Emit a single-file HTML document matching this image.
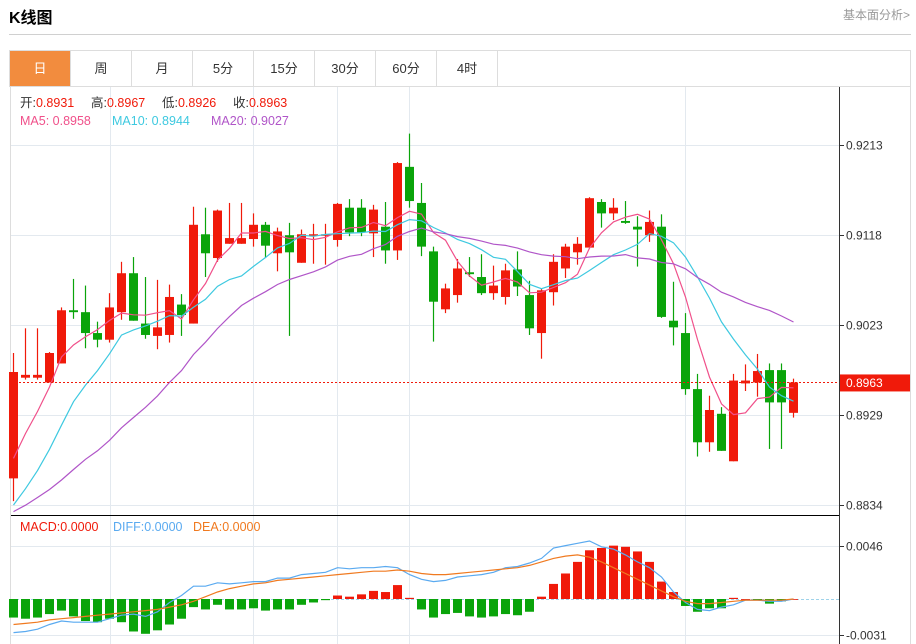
<!DOCTYPE html>
<html><head><meta charset="utf-8">
<style>
body{margin:0;width:916px;height:644px;background:#fff;font-family:"Liberation Sans","Noto Sans CJK SC",sans-serif;overflow:hidden;position:relative}
.title{position:absolute;left:9px;top:4px;font-size:16px;font-weight:bold;color:#000}
.more{position:absolute;right:6px;top:6px;font-size:12px;color:#999}
.hline{position:absolute;left:9px;top:34px;width:902px;height:1px;background:#d0d0d0}
.tabs{position:absolute;left:9px;top:50px;width:900px;height:35px;border:1px solid #ddd;display:flex}
.tab{width:60px;border-right:1px solid #ddd;text-align:center;line-height:35px;font-size:13px;color:#333}
.tab.on{background:#f28c3e;color:#fff}
svg{position:absolute;left:0;top:0}
</style></head><body>
<div class="title">K线图</div>
<div class="more">基本面分析&gt;</div>
<div class="hline"></div>
<div class="tabs">
<div class="tab on">日</div>
<div class="tab">周</div>
<div class="tab">月</div>
<div class="tab">5分</div>
<div class="tab">15分</div>
<div class="tab">30分</div>
<div class="tab">60分</div>
<div class="tab">4时</div>
</div>
<svg id="chart" width="916" height="644"></svg>
<script>
const opens=[0.8862,0.8968,0.8968,0.8963,0.8983,0.9039,0.9037,0.9015,0.9008,0.9037,0.9078,0.9025,0.9012,0.9013,0.9045,0.9025,0.9119,0.9094,0.9109,0.9109,0.9114,0.9129,0.9099,0.9118,0.9089,0.9118,0.9118,0.9113,0.9147,0.9147,0.9120,0.9127,0.9102,0.9190,0.9152,0.9101,0.9040,0.9055,0.9079,0.9074,0.9057,0.9053,0.9082,0.9055,0.9015,0.9058,0.9083,0.9100,0.9105,0.9153,0.9141,0.9133,0.9127,0.9118,0.9127,0.9028,0.9015,0.8956,0.8900,0.8930,0.8880,0.8962,0.8963,0.8976,0.8976,0.8931];
const closes=[0.8974,0.8971,0.8971,0.8994,0.9039,0.9037,0.9015,0.9008,0.9042,0.9078,0.9028,0.9013,0.9021,0.9053,0.9034,0.9129,0.9099,0.9144,0.9115,0.9115,0.9129,0.9107,0.9122,0.9100,0.9119,0.9119,0.9119,0.9151,0.9121,0.9121,0.9145,0.9102,0.9194,0.9154,0.9106,0.9048,0.9062,0.9083,0.9077,0.9057,0.9065,0.9081,0.9064,0.9020,0.9060,0.9090,0.9106,0.9109,0.9157,0.9141,0.9147,0.9131,0.9124,0.9132,0.9032,0.9021,0.8956,0.8900,0.8934,0.8891,0.8965,0.8965,0.8975,0.8942,0.8942,0.8963];
const highs=[0.8994,0.9020,0.9020,0.8995,0.9042,0.9072,0.9065,0.9027,0.9057,0.9090,0.9095,0.9074,0.9071,0.9066,0.9056,0.9148,0.9147,0.9145,0.9152,0.9152,0.9141,0.9132,0.9126,0.9131,0.9124,0.9130,0.9130,0.9152,0.9156,0.9156,0.9150,0.9153,0.9195,0.9225,0.9173,0.9106,0.9067,0.9093,0.9095,0.9098,0.9086,0.9088,0.9101,0.9070,0.9062,0.9098,0.9109,0.9116,0.9158,0.9156,0.9157,0.9154,0.9138,0.9144,0.9140,0.9069,0.9036,0.8972,0.8949,0.8937,0.8972,0.8982,0.8993,0.8983,0.8983,0.8967];
const lows=[0.8838,0.8966,0.8966,0.8963,0.8983,0.9030,0.8999,0.9000,0.9005,0.9029,0.9028,0.9009,0.8998,0.9005,0.9012,0.9025,0.9074,0.9090,0.9109,0.9109,0.9106,0.9094,0.9080,0.9012,0.9089,0.9088,0.9087,0.9106,0.9117,0.9117,0.9095,0.9088,0.9092,0.9147,0.9096,0.9006,0.9036,0.9047,0.9074,0.9055,0.9050,0.9045,0.9054,0.9013,0.8988,0.9044,0.9073,0.9087,0.9105,0.9126,0.9134,0.9130,0.9085,0.9111,0.9031,0.9002,0.8950,0.8885,0.8890,0.8891,0.8880,0.8954,0.8948,0.8893,0.8893,0.8926];
const prevCloses=[0.8835,0.8810,0.8825,0.8840,0.8815,0.8800,0.8830,0.8820,0.8815,0.8810,0.8800,0.8780,0.8770,0.8785,0.8790,0.8840,0.8855,0.8865,0.8881];
const macd=[-0.0016,-0.0017,-0.0016,-0.0013,-0.0010,-0.0015,-0.0019,-0.0020,-0.0017,-0.0020,-0.0028,-0.0030,-0.0027,-0.0022,-0.0017,-0.0007,-0.0009,-0.0005,-0.0009,-0.0009,-0.0008,-0.0010,-0.0009,-0.0009,-0.0005,-0.0003,-0.0001,0.0003,0.0002,0.0004,0.0007,0.0006,0.0012,0.0001,-0.0009,-0.0016,-0.0013,-0.0012,-0.0015,-0.0016,-0.0015,-0.0013,-0.0014,-0.0011,0.0002,0.0013,0.0022,0.0032,0.0042,0.0044,0.0046,0.0045,0.0041,0.0032,0.0015,0.0006,-0.0006,-0.0011,-0.0008,-0.0008,0.0001,0.0000,-0.0001,-0.0004,-0.0002,0.0000];
const diff=[-0.0029,-0.0028,-0.0026,-0.0022,-0.0019,-0.0020,-0.0020,-0.0020,-0.0017,-0.0014,-0.0013,-0.0015,-0.0011,-0.0003,0.0003,0.0011,0.0011,0.0014,0.0013,0.0014,0.0015,0.0015,0.0018,0.0018,0.0021,0.0022,0.0023,0.0027,0.0026,0.0027,0.0027,0.0028,0.0027,0.0021,0.0017,0.0015,0.0016,0.0019,0.0020,0.0021,0.0023,0.0027,0.0028,0.0031,0.0035,0.0044,0.0046,0.0048,0.0050,0.0045,0.0043,0.0038,0.0032,0.0027,0.0019,0.0006,-0.0003,-0.0009,-0.0010,-0.0007,-0.0005,-0.0001,-0.0001,-0.0002,-0.0002,0.0000];
const dea=[-0.0022,-0.0021,-0.0020,-0.0018,-0.0017,-0.0016,-0.0015,-0.0014,-0.0013,-0.0012,-0.0011,-0.0010,-0.0009,-0.0007,-0.0005,-0.0002,0.0002,0.0006,0.0009,0.0011,0.0013,0.0014,0.0016,0.0017,0.0018,0.0019,0.0020,0.0021,0.0022,0.0023,0.0024,0.0024,0.0025,0.0024,0.0022,0.0021,0.0021,0.0022,0.0023,0.0024,0.0025,0.0026,0.0027,0.0029,0.0032,0.0035,0.0037,0.0038,0.0036,0.0032,0.0027,0.0022,0.0017,0.0012,0.0007,0.0002,-0.0002,-0.0004,-0.0004,-0.0003,-0.0002,-0.0001,-0.0001,-0.0001,-0.0001,0.0000];
const priceTicks=[0.9213,0.9118,0.9023,0.8929,0.8834];
const macdTicks=[0.0046,-0.0031];
const lastPrice=0.8963;

const NS="http://www.w3.org/2000/svg";
const svg=document.getElementById('chart');
function el(tag,attrs,parent){const e=document.createElementNS(NS,tag);for(const k in attrs)e.setAttribute(k,attrs[k]);(parent||svg).appendChild(e);return e;}
const X=i=>13.5+i*12;
const Y=p=>145+(0.9213-p)*9498;
const MY=v=>599-v*11600;

const frame=el('path',{d:'M10.5 86 V644 M910.5 86 V644',stroke:'#ddd',fill:'none'});


const vGrid=[110,253,337,409,685];
vGrid.forEach(x=>{const g=el('line',{x1:x+.5,x2:x+.5,y1:87,y2:644,stroke:'#e3e9ef'});

});
priceTicks.forEach(t=>{const y=Math.round(Y(t))+.5;
const g=el('line',{x1:11,x2:839,y1:y,y2:y,stroke:'#e3e9ef'});


el('line',{x1:839,x2:844,y1:y,y2:y,stroke:'#333'});
const tx=el('text',{x:846,y:y+4,'font-size':12,fill:'#333'});tx.textContent=t.toFixed(4);

});
macdTicks.forEach(t=>{const y=Math.round(MY(t))+.5;
const g=el('line',{x1:11,x2:839,y1:y,y2:y,stroke:'#e3e9ef'});


el('line',{x1:839,x2:844,y1:y,y2:y,stroke:'#333'});
const tx=el('text',{x:846,y:y+4,'font-size':12,fill:'#333'});tx.textContent=t.toFixed(4);

});
const ax=el('line',{x1:839.5,x2:839.5,y1:87,y2:644,stroke:'#333'});


const sep=el('line',{x1:11,x2:839,y1:515.5,y2:515.5,stroke:'#000'});


const zero=el('line',{x1:11,x2:839,y1:MY(0)+.5,y2:MY(0)+.5,stroke:'#9fd3ea','stroke-dasharray':'3,2'});



opens.forEach((o,i)=>{const c=closes[i];const up=c>=o;const col=up?'#f01a0a':'#0aa40a';
const g=el('g',{});


const x=X(i);
el('line',{x1:x,x2:x,y1:Y(highs[i]),y2:Y(lows[i]),stroke:col,'stroke-width':1.2},g);
const t=Y(Math.max(o,c)),b=Y(Math.min(o,c));
el('rect',{x:x-4.5,y:t,width:9,height:Math.max(1.5,b-t),fill:col},g);});

const all=prevCloses.concat(closes);
function ma(n){return closes.map((_,i)=>{let s=0;for(let k=0;k<n;k++)s+=all[i+prevCloses.length-k];return s/n;});}
function line(vals,f,col,name){const d=vals.map((v,i)=>(i?'L':'M')+X(i).toFixed(1)+' '+f(v).toFixed(1)).join(' ');
const p=el('path',{d:d,fill:'none',stroke:col,'stroke-width':1.2});

}
line(ma(5),Y,'#f0508a','ma5-line');
line(ma(10),Y,'#3ec9e0','ma10-line');
line(ma(20),Y,'#b055c8','ma20-line');

const lp=el('line',{x1:11,x2:839,y1:Y(lastPrice),y2:Y(lastPrice),stroke:'#f01a0a','stroke-dasharray':'2,2'});


const lr=el('rect',{x:840,y:Y(lastPrice)-8,width:70,height:17,fill:'#f01a0a'});


const lt=el('text',{x:846,y:Y(lastPrice)+4.5,'font-size':12,fill:'#fff'});lt.textContent=lastPrice.toFixed(4);



macd.forEach((v,i)=>{const y0=MY(0),y1=MY(v);
const r=el('rect',{x:X(i)-4.5,y:Math.min(y0,y1),width:9,height:Math.max(0.8,Math.abs(y1-y0)),fill:v>=0?'#f01a0a':'#0aa40a'});

});
line(diff,MY,'#5aaaf0','diff-line');
line(dea,MY,'#f07a20','dea-line');

function legend(items,y,name){let x=20;const g=el('g',{});


items.forEach(([a,b,ca,cb,gap])=>{const t=el('text',{x:x,y:y,'font-size':12.5},g);
const s1=el('tspan',{fill:ca},t);s1.textContent=a;const s2=el('tspan',{fill:cb},t);s2.textContent=b;x+=gap;});}
legend([['开:','0.8931','#333','#f01a0a',71],['高:','0.8967','#333','#f01a0a',71],['低:','0.8926','#333','#f01a0a',71],['收:','0.8963','#333','#f01a0a',71]],107,'ohlc-legend');
legend([['MA5: ','0.8958','#f0508a','#f0508a',92],['MA10: ','0.8944','#3ec9e0','#3ec9e0',99],['MA20: ','0.9027','#b055c8','#b055c8',99]],125,'ma-legend');
legend([['MACD:','0.0000','#f01a0a','#f01a0a',93],['DIFF:','0.0000','#5aaaf0','#5aaaf0',80],['DEA:','0.0000','#f07a20','#f07a20',80]],531,'macd-legend');
</script>
</body></html>
